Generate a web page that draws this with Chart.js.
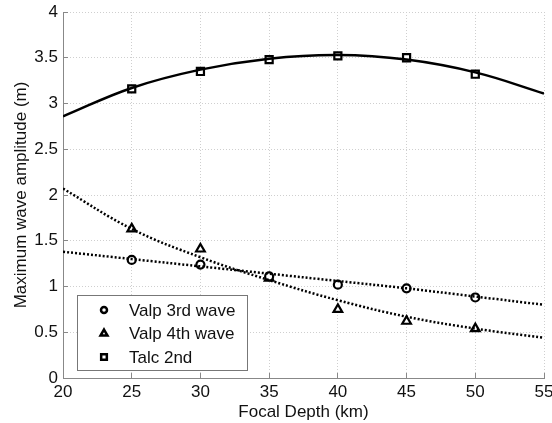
<!DOCTYPE html>
<html><head><meta charset="utf-8">
<script src="https://cdn.jsdelivr.net/npm/chart.js@4/dist/chart.umd.min.js"></script>
<style>html,body{margin:0;padding:0;background:#fff}#wrap{width:552px;height:423px}</style>
</head><body><div id="wrap"><canvas id="c" width="552" height="423"></canvas></div>
<script>
const depths = [25, 30, 35, 40, 45, 50];
const valp3 = [1.29, 1.24, 1.11, 1.02, 0.98, 0.88];
const valp4 = [1.63, 1.41, 1.09, 0.75, 0.62, 0.54];
const talc2 = [3.16, 3.35, 3.48, 3.52, 3.50, 3.32];
const fitDepths = [20, 25, 30, 35, 40, 45, 50, 55];
const valp3Fit = [1.38, 1.30, 1.22, 1.14, 1.06, 0.98, 0.89, 0.80];
const valp4Fit = [2.07, 1.63, 1.32, 1.07, 0.85, 0.67, 0.54, 0.44];
const talc2Fit = [2.86, 3.17, 3.37, 3.49, 3.53, 3.48, 3.34, 3.11];
const xTicks = [20, 25, 30, 35, 40, 45, 50, 55];
const yTicks = [0, 0.5, 1, 1.5, 2, 2.5, 3, 3.5, 4];
const legendLabels = ['Valp 3rd wave', 'Valp 4th wave', 'Talc 2nd'];

const pts = (xs, ys) => xs.map((x, i) => ({x, y: ys[i]}));
const FONT = "'Liberation Sans', Arial, sans-serif";

const fitStyle = (data, dashed) => ({
  data, showLine: true, pointRadius: 0, borderColor: '#000', borderWidth: 2.5,
  borderDash: dashed ? [2, 2] : [], tension: 0.4, fill: false, isFit: true
});
const markStyle = (label, data, style, r) => ({
  label, data, showLine: false, pointStyle: style, pointRadius: r, pointHoverRadius: r,
  pointBorderWidth: 2.2, pointBackgroundColor: '#fff', pointBorderColor: '#000', borderColor: '#000'
});

const legendPlugin = {
  id: 'boxLegend',
  afterDraw(chart) {
    const ctx = chart.ctx, a = chart.chartArea;
    const x0 = a.left + 14, y0 = a.bottom - 83, w = 170, h = 75;
    ctx.save();
    ctx.fillStyle = '#fff'; ctx.fillRect(x0, y0, w, h);
    ctx.strokeStyle = '#777'; ctx.lineWidth = 1; ctx.strokeRect(x0 + 0.5, y0 + 0.5, w, h);
    const marks = chart.data.datasets.filter(d => !d.isFit);
    ctx.font = '17px ' + FONT; ctx.textBaseline = 'middle';
    marks.forEach((d, i) => {
      const cy = y0 + 15 + i * 23.5;
      ctx.strokeStyle = '#000'; ctx.lineWidth = 2.5; ctx.fillStyle = '#fff';
      Chart.helpers.drawPoint(ctx, {pointStyle: d.pointStyle, radius: d.pointRadius - 1, borderWidth: 2.5}, x0 + 27, cy);
      ctx.fillStyle = '#111';
      ctx.fillText(legendLabels[i], x0 + 52, cy + 1);
    });
    ctx.restore();
  }
};

const fmt = v => String(v);
const noPad = s => { s.paddingLeft = 0; s.paddingRight = 0; s.paddingTop = 0; s.paddingBottom = 0; };

new Chart(document.getElementById('c'), {
  type: 'scatter',
  data: { datasets: [
    fitStyle(pts(fitDepths, valp3Fit), true),
    fitStyle(pts(fitDepths, valp4Fit), true),
    fitStyle(pts(fitDepths, talc2Fit), false),
    markStyle(legendLabels[0], pts(depths, valp3), 'circle', 4),
    markStyle(legendLabels[1], pts(depths, valp4), 'triangle', 5),
    markStyle(legendLabels[2], pts(depths, talc2), 'rect', 5)
  ]},
  options: {
    responsive: false, animation: false, devicePixelRatio: 1,
    layout: { padding: { left: 0, right: 8, top: 12, bottom: 0 } },
    plugins: { legend: { display: false }, tooltip: { enabled: false } },
    scales: {
      x: {
        type: 'linear', min: 20, max: 55,
        afterBuildTicks: s => { s.ticks = xTicks.map(v => ({value: v})); },
        afterFit: s => { s.height = 45; noPad(s); },
        grid: { color: '#cfcfcf', lineWidth: 1, drawTicks: true, tickLength: -5, tickColor: '#888', tickWidth: 1 },
        border: { display: true, color: '#888', width: 1, dash: [1, 2] },
        ticks: { color: '#111', font: { family: FONT, size: 17 }, padding: 9, maxRotation: 0, callback: fmt },
        title: { display: true, text: 'Focal Depth (km)', color: '#111', font: { family: FONT, size: 17 }, padding: { top: 1, bottom: 0 } }
      },
      y: {
        min: 0, max: 4,
        afterBuildTicks: s => { s.ticks = yTicks.map(v => ({value: v})); },
        afterFit: s => { s.width = 63; noPad(s); },
        grid: { color: '#cfcfcf', lineWidth: 1, drawTicks: true, tickLength: -5, tickColor: '#888', tickWidth: 1 },
        border: { display: true, color: '#888', width: 1, dash: [1, 2] },
        ticks: { color: '#111', font: { family: FONT, size: 17 }, padding: 10, callback: fmt },
        title: { display: true, text: 'Maximum wave amplitude (m)', color: '#111', font: { family: FONT, size: 17 }, padding: { top: 11, bottom: 0 } }
      }
    }
  },
  plugins: [legendPlugin]
});
</script></body></html>
